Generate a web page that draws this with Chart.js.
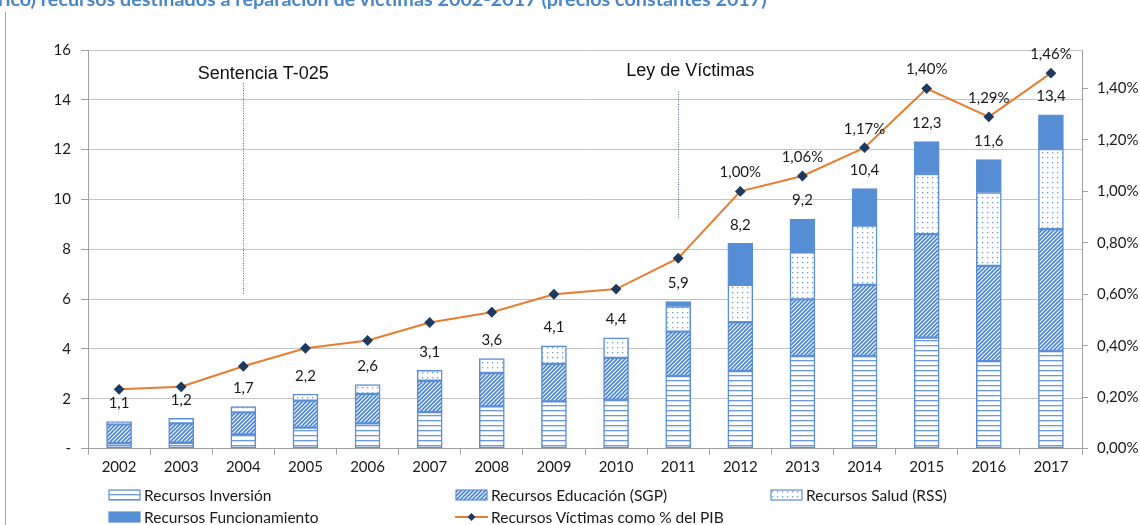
<!DOCTYPE html>
<html>
<head>
<meta charset="utf-8">
<script src="https://cdn.jsdelivr.net/npm/chart.js@4.4.1/dist/chart.umd.min.js"></script>
<style>
  body { margin: 0; background: #fff; }
  #wrap { position: relative; width: 1140px; height: 525px; overflow: hidden; }
  #title { position: absolute; left: -2px; top: -14px; font: bold 19.8px Lato; color: #4a86c8; white-space: nowrap; }
  #frame { position: absolute; left: 5px; top: 12px; width: 1px; height: 520px; background: #a6a6a6; }
  .leg { position: absolute; height: 18px; display: flex; align-items: center; font: 15.5px Lato; color: #1a1a1a; white-space: nowrap; }
  .leg canvas { margin-right: 3px; }
</style>
</head>
<body>
<div id="wrap">
  <div id="title">rico) recursos destinados a reparación de víctimas 2002-2017 (precios constantes 2017)</div>
  <div id="frame"></div>
  <canvas id="mainChart"></canvas>
  <div id="legend"></div>
</div>
<script>
// datos (billones de pesos 2017)
const years = ['2002', '2003', '2004', '2005', '2006', '2007', '2008', '2009', '2010', '2011', '2012', '2013', '2014', '2015', '2016', '2017']
const inversion = [0.21, 0.23, 0.57, 0.84, 1.01, 1.46, 1.69, 1.89, 1.96, 2.91, 3.11, 3.71, 3.71, 4.45, 3.51, 3.91]
const educacion = [0.76, 0.78, 0.88, 1.08, 1.18, 1.26, 1.34, 1.51, 1.68, 1.78, 1.96, 2.28, 2.86, 4.16, 3.82, 4.90]
const salud = [0.11, 0.20, 0.23, 0.26, 0.38, 0.42, 0.58, 0.72, 0.80, 1.01, 1.50, 1.89, 2.38, 2.41, 2.95, 3.21]
const funcionamiento = [0, 0, 0, 0, 0, 0, 0, 0, 0, 0.20, 1.67, 1.33, 1.49, 1.30, 1.32, 1.38]
const pibPct = [0.23, 0.24, 0.32, 0.39, 0.42, 0.49, 0.53, 0.60, 0.62, 0.74, 1.00, 1.06, 1.17, 1.40, 1.29, 1.46]
const pibLabelled = [false, false, false, false, false, false, false, false, false, false, true, true, true, true, true, true]
const seriesNames = ['Recursos Inversión', 'Recursos Educación (SGP)', 'Recursos Salud (RSS)', 'Recursos Funcionamiento', 'Recursos Víctimas como % del PIB']

const blue = '#5b8ed6'
const solidBlue = '#558ed5'
const orange = '#e97c30'
const navy = '#1f3a5f'

const comma = (v, d) => v.toFixed(d).replace('.', ',')

// tramas estilo Excel
const makeTile = (w, h, draw) => {
  const c = document.createElement('canvas')
  c.width = w
  c.height = h
  const g = c.getContext('2d')
  g.fillStyle = '#fff'
  g.fillRect(0, 0, w, h)
  draw(g)
  return c.getContext('2d').createPattern(c, 'repeat')
}
const hLines = makeTile(5, 5, g => {
  g.fillStyle = '#6a98dc'
  g.fillRect(0, 0, 5, 1.3)
})
const diag = makeTile(4, 4, g => {
  g.strokeStyle = '#4a82d2'
  g.lineWidth = 1.6
  g.beginPath()
  g.moveTo(-1, 5); g.lineTo(5, -1)
  g.moveTo(-1, 1); g.lineTo(1, -1)
  g.moveTo(3, 5); g.lineTo(5, 3)
  g.stroke()
})
const dots = makeTile(5, 5, g => {
  g.fillStyle = '#6a9be0'
  g.fillRect(2, 2, 1.3, 1.3)
})
const fills = [hLines, diag, dots, solidBlue]
const values = [inversion, educacion, salud, funcionamiento]

const barSets = values.map((arr, i) => ({
  type: 'bar',
  label: seriesNames[i],
  data: arr.map(v => v || null),
  backgroundColor: fills[i],
  borderColor: blue,
  borderWidth: 1.5,
  borderSkipped: false,
  barThickness: 25,
  yAxisID: 'y',
  order: 1,
}))

const labelsPlugin = {
  id: 'labels',
  afterDatasetsDraw(chart) {
    const { ctx, scales: { x, y, y1 } } = chart
    ctx.save()
    ctx.font = '15px Lato'
    ctx.fillStyle = '#1a1a1a'
    ctx.textAlign = 'center'
    ctx.textBaseline = 'middle'
    years.forEach((yr, i) => {
      const total = inversion[i] + educacion[i] + salud[i] + funcionamiento[i]
      ctx.fillText(comma(total, 1), x.getPixelForValue(i), y.getPixelForValue(total) - 18.5)
      if (pibLabelled[i]) ctx.fillText(comma(pibPct[i], 2) + '%', x.getPixelForValue(i), y1.getPixelForValue(pibPct[i]) - 19)
    })
    // hitos: Sentencia T-025 y Ley de Victimas
    const hitos = [
      { text: 'Sentencia T-025', idx: 2, top: 14.68, bottom: 6.16, dx: 20, ty: 15.04 },
      { text: 'Ley de Víctimas', idx: 9, top: 14.33, bottom: 9.2, dx: 12, ty: 15.16 },
    ]
    hitos.forEach(h => {
      const px = x.getPixelForValue(h.idx)
      ctx.strokeStyle = '#4a6590'
      ctx.lineWidth = 1
      ctx.setLineDash([1, 1.5])
      ctx.beginPath()
      ctx.moveTo(Math.round(px) + 0.5, y.getPixelForValue(h.top))
      ctx.lineTo(Math.round(px) + 0.5, y.getPixelForValue(h.bottom))
      ctx.stroke()
      ctx.setLineDash([])
      ctx.font = '18px "Liberation Sans"'
      ctx.fillStyle = '#111'
      ctx.fillText(h.text, px + h.dx, y.getPixelForValue(h.ty))
    })
    ctx.restore()
  },
}

Chart.defaults.font.family = 'Lato'
Chart.defaults.font.size = 15
Chart.defaults.color = '#1a1a1a'

new Chart(document.getElementById('mainChart'), {
  data: {
    labels: years,
    datasets: [
      {
        type: 'line',
        label: seriesNames[4],
        data: pibPct,
        borderColor: orange,
        borderWidth: 2,
        pointStyle: 'rectRot',
        pointRadius: 4,
        pointBackgroundColor: navy,
        pointBorderColor: navy,
        yAxisID: 'y1',
        order: 0,
      },
      ...barSets,
    ],
  },
  options: {
    responsive: true,
    maintainAspectRatio: false,
    animation: false,
    layout: { padding: { top: 50, bottom: 46.5, left: 0, right: 0 } },
    plugins: { legend: { display: false }, tooltip: { enabled: false } },
    scales: {
      x: {
        stacked: true,
        afterFit: s => { s.height = 30 },
        grid: { offset: true, drawOnChartArea: false, tickLength: 6, tickColor: '#a0a0a0' },
        border: { color: '#a0a0a0' },
        ticks: { padding: 4, maxRotation: 0 },
      },
      y: {
        stacked: true,
        position: 'left',
        min: 0,
        max: 16,
        afterFit: s => { s.width = 88 },
        ticks: { stepSize: 2, padding: 10, callback: v => (v === 0 ? '-' : v) },
        grid: { color: '#c4c4c4', tickLength: 7, tickColor: '#a0a0a0' },
        border: { color: '#a0a0a0' },
      },
      y1: {
        position: 'right',
        min: 0,
        max: 1.55,
        afterFit: s => { s.width = 58 },
        ticks: { stepSize: 0.2, includeBounds: false, padding: 9, callback: v => comma(v, 2) + '%' },
        grid: { drawOnChartArea: false, tickLength: 6, tickColor: '#a0a0a0' },
        border: { color: '#a0a0a0' },
      },
    },
  },
  plugins: [labelsPlugin],
})

// leyenda manual con las mismas tramas
const legendPos = [[108, 486], [455, 486], [770, 486], [108, 508], [455, 508]]
const legendBox = document.getElementById('legend')
seriesNames.forEach((name, i) => {
  const item = document.createElement('div')
  item.className = 'leg'
  item.style.left = legendPos[i][0] + 'px'
  item.style.top = legendPos[i][1] + 'px'
  const icon = document.createElement('canvas')
  icon.width = 33
  icon.height = 12
  const g = icon.getContext('2d')
  if (i < 4) {
    g.fillStyle = fills[i]
    g.fillRect(1, 1, 31, 10)
    g.strokeStyle = blue
    g.lineWidth = 1.2
    g.strokeRect(1, 1, 31, 10)
  } else {
    g.strokeStyle = orange
    g.lineWidth = 2.2
    g.beginPath(); g.moveTo(0, 6); g.lineTo(33, 6); g.stroke()
    g.fillStyle = navy
    g.beginPath(); g.moveTo(16.5, 2); g.lineTo(20.5, 6); g.lineTo(16.5, 10); g.lineTo(12.5, 6); g.closePath(); g.fill()
  }
  item.appendChild(icon)
  item.appendChild(document.createTextNode(name))
  legendBox.appendChild(item)
})
</script>
</body>
</html>
